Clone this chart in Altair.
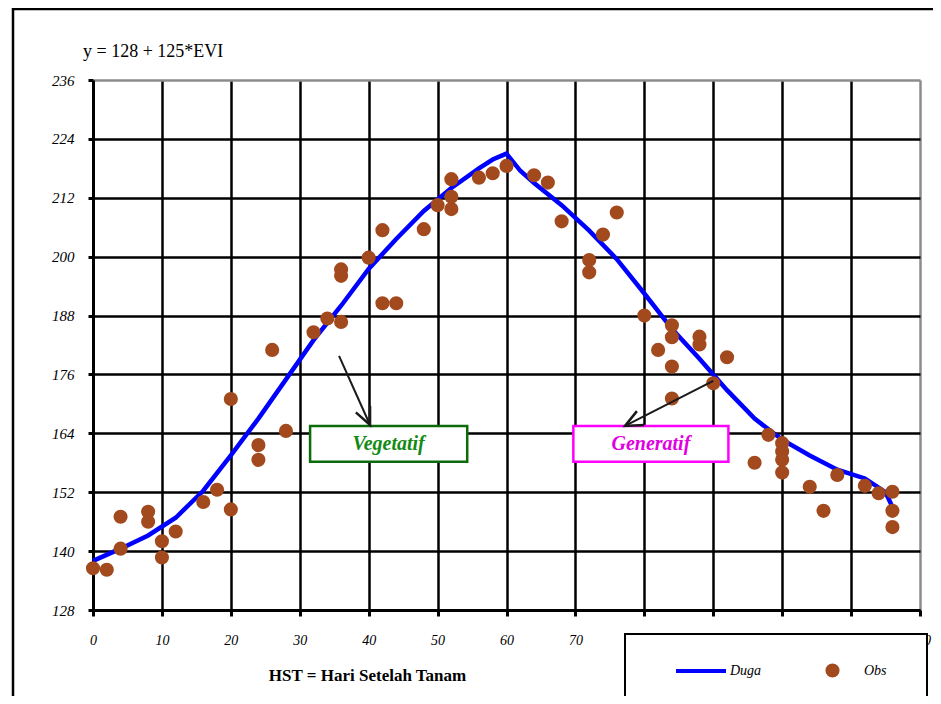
import altair as alt
import pandas as pd

# ---------------- data ----------------
obs_x = [0, 2, 4, 4, 8, 8, 10, 10, 12, 16, 18, 20, 20, 24, 24, 26, 28, 32, 34, 36, 36, 36,
         40, 42, 42, 44, 48, 50, 52, 52, 52, 56, 58, 60, 64, 66, 68, 72, 72, 74, 76, 80,
         82, 84, 84, 84, 84, 88, 88, 90, 92, 96, 98, 100, 100, 100, 100, 104, 106, 108,
         112, 114, 116, 116, 116]
obs_y = [136.5, 136.2, 140.5, 147.0, 148.0, 146.0, 142.0, 138.7, 144.0, 150.0, 152.5, 148.5,
         171.0, 161.6, 158.6, 181.0, 164.5, 184.6, 187.4, 186.7, 196.1, 197.4, 199.8, 205.4,
         190.5, 190.5, 205.6, 210.5, 215.8, 212.2, 209.7, 216.1, 217.0, 218.5, 216.6, 215.1,
         207.2, 199.3, 196.8, 204.5, 209.0, 188.0, 181.0, 186.0, 183.6, 177.6, 171.1, 183.7,
         182.1, 174.2, 179.5, 158.0, 163.7, 162.0, 160.3, 158.6, 156.0, 153.1, 148.2, 155.5,
         153.3, 151.8, 152.1, 148.2, 144.9]

duga_x = [0, 4, 8, 12, 16, 20, 24, 28, 32, 36, 40, 44, 48, 52, 56, 58, 60, 62, 64, 68, 72,
          76, 80, 84, 88, 90, 92, 96, 100, 104, 108, 112, 115, 116]
duga_y = [138.0, 140.5, 143.2, 146.8, 152.3, 159.5, 167.0, 175.0, 183.0, 190.0, 197.5, 203.6,
          209.3, 214.0, 218.0, 219.8, 221.0, 217.5, 215.0, 210.5, 205.3, 199.5, 192.5, 185.3,
          179.2, 176.0, 172.8, 167.0, 162.7, 159.5, 156.6, 154.8, 152.0, 149.0]

x_ticks = list(range(0, 121, 10))
y_ticks = list(range(128, 237, 12))

ann_label = ["Vegetatif", "Generatif"]
ann_x0 = [31.5, 69.7]
ann_x1 = [54.3, 92.2]
ann_y0 = [158.2, 158.2]
ann_y1 = [165.5, 165.5]
ann_box_color = ["#0B6B0B", "#FF00FF"]
ann_text_color = ["#138A13", "#E000E0"]

arrow_x0 = [35.7, 90.0]
arrow_y0 = [179.8, 174.7]
arrow_x1 = [40.2, 77.2]
arrow_y1 = [165.7, 165.5]
arrow_angle = [335.8, 62.9]

BLUE = "#0000FF"
BROWN = "#A24A1E"
FONT = "Liberation Serif"

# ---------------- frames ----------------
obs_df = pd.DataFrame({"x": obs_x, "y": obs_y, "series": "Obs"})
duga_df = pd.DataFrame({"x": duga_x, "y": duga_y, "series": "Duga"})
ann_df = pd.DataFrame({"label": ann_label, "x0": ann_x0, "x1": ann_x1,
                       "y0": ann_y0, "y1": ann_y1})
ann_df["xc"] = (ann_df["x0"] + ann_df["x1"]) / 2
ann_df["yc"] = (ann_df["y0"] + ann_df["y1"]) / 2
arr_df = pd.DataFrame({"x0": arrow_x0, "y0": arrow_y0, "x1": arrow_x1, "y1": arrow_y1,
                       "ang": arrow_angle})

xscale = alt.Scale(domain=[0, 120], nice=False, zero=False)
yscale = alt.Scale(domain=[128, 236], nice=False, zero=False)

x_axis = alt.Axis(
    values=x_ticks, grid=True, labelFlush=False,
    gridColor={"condition": {"test": "datum.value === 120", "value": "#8c8c8c"}, "value": "black"},
    gridWidth=2.5, domainColor="black", domainWidth=3, tickColor="black", tickWidth=3,
    tickSize=6, labelPadding=17, labelFont=FONT, labelFontStyle="italic", labelFontSize=14,
    labelColor="black", title="HST = Hari Setelah Tanam", titleFont=FONT,
    titleFontWeight="bold", titleFontSize=17, titleColor="black", titleX=274, titleY=65,
    titleAlign="center", titleBaseline="middle",
)
y_axis = alt.Axis(
    values=y_ticks, grid=True,
    gridColor={"condition": {"test": "datum.value === 236", "value": "#8c8c8c"}, "value": "black"},
    gridWidth=2.5, domainColor="black", domainWidth=3, tickColor="black", tickWidth=3,
    tickSize=5, labelPadding=14, labelFont=FONT, labelFontStyle="italic", labelFontSize=15,
    labelColor="black", title=None,
)


def xenc(field):
    return alt.X(field, scale=xscale, axis=x_axis)


def yenc(field):
    return alt.Y(field, scale=yscale, axis=y_axis)


leg_common = dict(title=None, orient="none", direction="horizontal", padding=0,
                  labelFont=FONT, labelFontStyle="italic", labelFontSize=14,
                  labelColor="black")

duga_legend = alt.Legend(legendX=581, legendY=564, symbolType="stroke", symbolSize=2500,
                         symbolStrokeWidth=4, labelOffset=2, **leg_common)
obs_legend = alt.Legend(legendX=732, legendY=583, symbolType="circle", symbolSize=200,
                        symbolStrokeWidth=0, labelOffset=24, **leg_common)

frame = alt.Chart(pd.DataFrame({"k": [0]})).mark_rect(
    fillOpacity=0, stroke="black", strokeWidth=2.5
).encode(x=alt.value(-80), x2=alt.value(900), y=alt.value(-71), y2=alt.value(700))

legend_box = alt.Chart(pd.DataFrame({"k": [0]})).mark_rect(
    fill="white", stroke="black", strokeWidth=2
).encode(x=alt.value(532), x2=alt.value(834), y=alt.value(554), y2=alt.value(660))

line = alt.Chart(duga_df).mark_line(strokeWidth=4.5).encode(
    x=xenc("x:Q"), y=yenc("y:Q"),
    stroke=alt.Stroke("series:N", scale=alt.Scale(domain=["Duga"], range=[BLUE]),
                      legend=duga_legend),
)
points = alt.Chart(obs_df).mark_circle(size=200, opacity=1).encode(
    x=xenc("x:Q"), y=yenc("y:Q"),
    fill=alt.Fill("series:N", scale=alt.Scale(domain=["Obs"], range=[BROWN]),
                  legend=obs_legend),
)

ann_layers = []
for i, lab in enumerate(ann_label):
    base = alt.Chart(ann_df).transform_filter(alt.datum.label == lab)
    ann_layers.append(base.mark_rect(fill="white", stroke=ann_box_color[i], strokeWidth=2.5).encode(
        x=xenc("x0:Q"), x2="x1:Q", y=yenc("y0:Q"), y2="y1:Q",
    ))
    ann_layers.append(base.mark_text(
        font=FONT, fontSize=20, fontWeight="bold", fontStyle="italic", color=ann_text_color[i]
    ).encode(x=xenc("xc:Q"), y=yenc("yc:Q"), text="label:N"))

shafts = alt.Chart(arr_df).mark_rule(color="#1a1a1a", strokeWidth=2).encode(
    x=xenc("x0:Q"), y=yenc("y0:Q"), x2="x1:Q", y2="y1:Q",
)
heads = alt.Chart(arr_df).mark_point(
    shape="M -0.45 -1 L 0 0 L 0.45 -1", filled=False, size=1200, color="#1a1a1a",
    strokeWidth=2.5, opacity=1
).encode(x=xenc("x1:Q"), y=yenc("y1:Q"), angle=alt.Angle("ang:Q", scale=None))

chart = alt.layer(line, points, *ann_layers, shafts, heads, legend_box, frame).properties(
    width=827, height=530,
    padding={"left": 85, "top": 72, "right": 13, "bottom": 86},
    autosize=alt.AutoSizeParams(type="none"),
    title=alt.TitleParams("y = 128 + 125*EVI", anchor="start", frame="group", dx=-10,
                          offset=0, dy=71, baseline="bottom", fontSize=18, font=FONT,
                          fontWeight="normal", color="black"),
).configure_view(stroke="transparent").configure(background="white")

chart.save("out.html", embed_options={"renderer": "svg", "actions": False})
